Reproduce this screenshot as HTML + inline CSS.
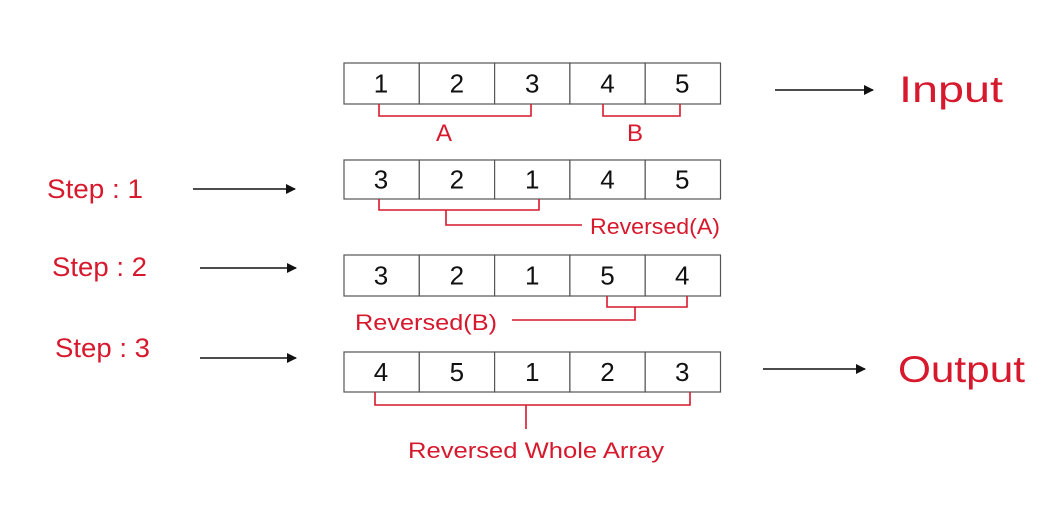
<!DOCTYPE html>
<html><head><meta charset="utf-8">
<style>
html,body{margin:0;padding:0;background:#fff;}
svg{display:block;}
.red{fill:#d7192d;font-family:"Liberation Sans",sans-serif;}
.num{font-family:"Liberation Sans",sans-serif;font-size:26px;fill:#111;text-anchor:middle;}
</style></head>
<body>
<svg id="d" width="1063" height="521" viewBox="0 0 1063 521">
<defs><marker id="ah" markerWidth="10" markerHeight="10" refX="9" refY="5" orient="auto" markerUnits="userSpaceOnUse"><path d="M0,0 L10,5 L0,10 z" fill="#111"/></marker></defs>
<g id="rows"></g>
<g stroke="#d7192d" stroke-width="1.6" fill="none">
<polyline points="379,104 379,116 531,116 531,104"/>
<polyline points="603,104 603,116 680,116 680,104"/>
<polyline points="379,199 379,210 539,210 539,199"/>
<polyline points="446,210 446,225 582,225"/>
<polyline points="607,296 607,307 687,307 687,296"/>
<polyline points="635,307 635,320 512,320"/>
<polyline points="375,392 375,405 690,405 690,392"/>
<line x1="526" y1="405" x2="526" y2="429"/>
</g>
<text class="red" x="436" y="141" font-size="24">A</text>
<text class="red" x="627" y="141" font-size="24">B</text>
<text class="red" x="590" y="234" font-size="22" textLength="130" lengthAdjust="spacingAndGlyphs">Reversed(A)</text>
<text class="red" x="355" y="330" font-size="22" textLength="142" lengthAdjust="spacingAndGlyphs">Reversed(B)</text>
<text class="red" x="408" y="458" font-size="22" textLength="256" lengthAdjust="spacingAndGlyphs">Reversed Whole Array</text>
<text class="red" x="47" y="198" font-size="27" textLength="96" lengthAdjust="spacingAndGlyphs">Step : 1</text>
<text class="red" x="52" y="276" font-size="27" textLength="95" lengthAdjust="spacingAndGlyphs">Step : 2</text>
<text class="red" x="55" y="357" font-size="27" textLength="95" lengthAdjust="spacingAndGlyphs">Step : 3</text>
<text class="red" x="899" y="102" font-size="37" textLength="104" lengthAdjust="spacingAndGlyphs">Input</text>
<text class="red" x="898" y="382" font-size="37" textLength="127" lengthAdjust="spacingAndGlyphs">Output</text>
<g stroke="#111" stroke-width="1.5">
<line x1="193" y1="189" x2="295" y2="189" marker-end="url(#ah)"/>
<line x1="200" y1="268" x2="296" y2="268" marker-end="url(#ah)"/>
<line x1="200" y1="358" x2="296" y2="358" marker-end="url(#ah)"/>
<line x1="775" y1="90" x2="873" y2="90" marker-end="url(#ah)"/>
<line x1="763" y1="369" x2="865" y2="369" marker-end="url(#ah)"/>
</g>
</svg>
<script>
const rowInput = [1,2,3,4,5];
const rowStep1 = [3,2,1,4,5];
const rowStep2 = [3,2,1,5,4];
const rowStep3 = [4,5,1,2,3];
const rowNames = ['input-array','step1-array','step2-array','output-array'];
const rows = [rowInput,rowStep1,rowStep2,rowStep3];
const rowTop = [63,160,255,352];
const rowH = [41,39,41,40];
const cellX = x => 344 + x*75.3;
const NS = 'http://www.w3.org/2000/svg';
const g = document.getElementById('rows');
rows.forEach((vals, r) => {
  const rg = document.createElementNS(NS,'g');
  
  
  vals.forEach((v, i) => {
    const rect = document.createElementNS(NS,'rect');
    rect.setAttribute('x', cellX(i)); rect.setAttribute('y', rowTop[r]);
    rect.setAttribute('width', 75.3); rect.setAttribute('height', rowH[r]);
    rect.setAttribute('fill', '#fff'); rect.setAttribute('stroke', '#555'); rect.setAttribute('stroke-width', '1.2');
    
    
    rg.appendChild(rect);
    const t = document.createElementNS(NS,'text');
    t.setAttribute('class','num');
    t.setAttribute('x', cellX(i) + (i===0?37:i===4?37:37.6));
    t.setAttribute('y', rowTop[r] + rowH[r]/2 + 9);
    t.textContent = v;
    
    
    rg.appendChild(t);
  });
  g.appendChild(rg);
});
</script>
</body></html>
